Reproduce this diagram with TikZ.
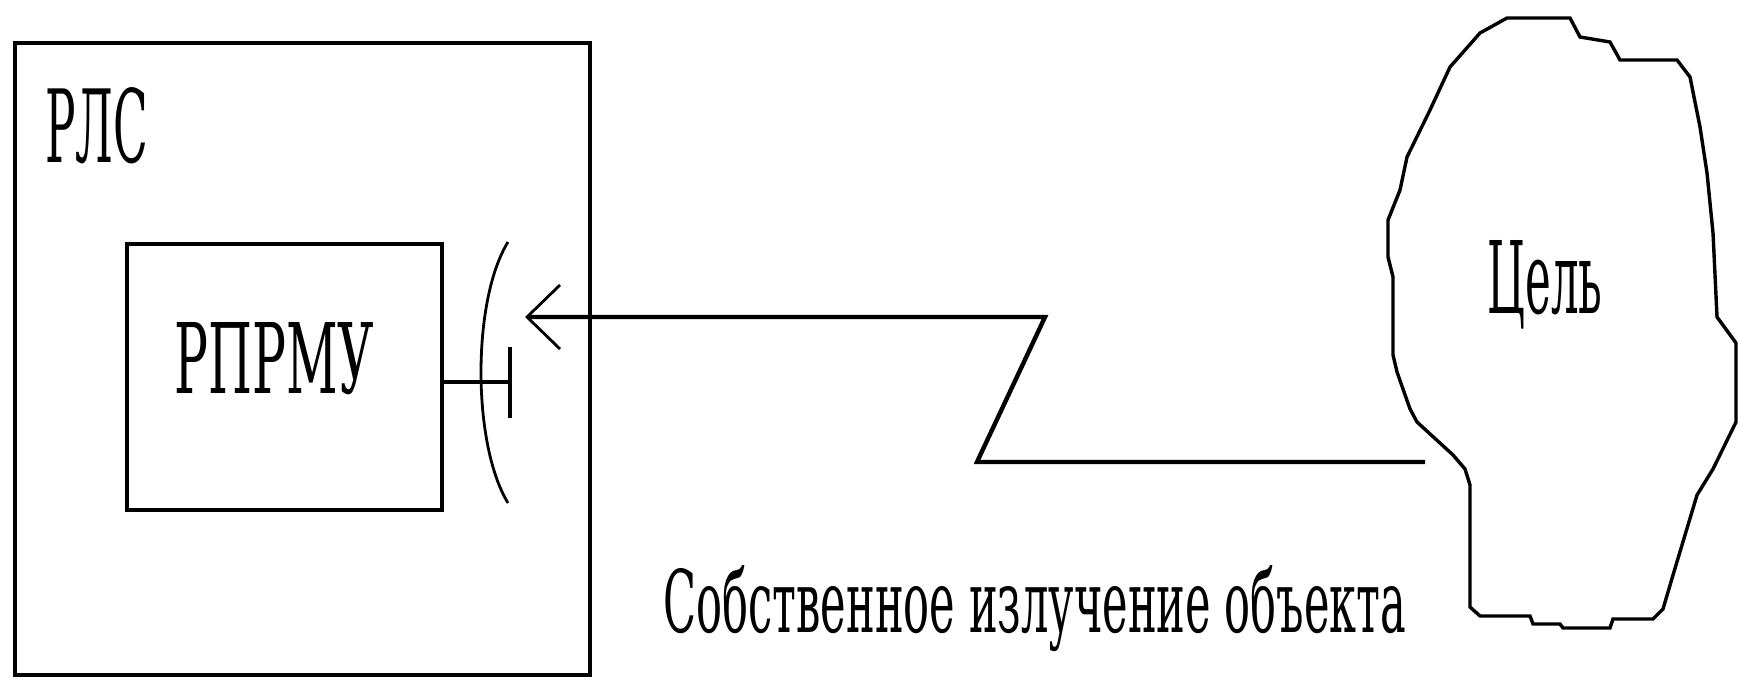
\documentclass[tikz,border=0pt]{standalone}
\usepackage{fontspec}
\setmainfont{DejaVu Serif}
\usetikzlibrary{arrows.meta}
\tikzset{blk/.style={draw,line width=2.2pt,inner sep=0pt},
  txt/.style={inner sep=0pt,anchor=base west,font=\rmfamily}}

\begin{document}
\begin{tikzpicture}[x=0.5pt,y=-0.5pt]
  \useasboundingbox (0,0) rectangle (1738,680);
  % radar and receiver
  \node[blk,minimum width=287.5pt,minimum height=316pt] (rls) at (302.5,359) {};
  \node[blk,minimum width=157.5pt,minimum height=133pt] (prmu) at (284.5,377) {};
  \node[txt] (rlsname) at (45,162) {\resizebox{51.5pt}{37.5pt}{РЛС}};
  \node[txt] (prmuname) at (174,393) {\resizebox{100pt}{35.5pt}{РПРМУ}};
  % antenna
  \coordinate (feed) at (510,382);
  \draw[line width=1.7pt] (feed -| prmu.east) -- (feed); \draw[line width=1.7pt] (feed) ++(0,-35) -- ++(0,71);
  \draw[line width=1.4pt] (508,242) .. controls (472,300) and (472,444) .. (508,503);
  % target
  \draw[line width=1.7pt] (1507,18) -- (1570,18) -- (1580,37) -- (1610,42) -- (1620,60) -- (1677,60) -- (1690,77)
    -- (1700,127) -- (1707,173) -- (1713,233) -- (1717,317) -- (1736,343) -- (1736,422) -- (1713,469) -- (1697,495)
    -- (1673,575) -- (1663,609) -- (1653,619) -- (1613,619) -- (1610,628) -- (1563,628) -- (1560,624) -- (1533,624)
    -- (1530,616) -- (1480,616) -- (1470,607) -- (1470,485) -- (1465,469) -- (1453,455) -- (1417,422) -- (1410,409)
    -- (1397,372) -- (1393,355) -- (1393,277) -- (1388,257) -- (1388,220) -- (1400,190) -- (1407,157) -- (1430,110)
    -- (1450,67) -- (1480,33) -- cycle;
  \node[txt] (cel) at (1487,313) {\resizebox{57.5pt}{36.5pt}{Цель}};
  % emission
  \coordinate (rx) at (525,317); \coordinate (tx) at (1425,462);
  \draw[line width=2.2pt,-{Straight Barb[length=16.5pt,width=32pt,line width=1.4pt]}] (tx) -- (977,462) -- (1045,317) -- (rx);
  \node[txt] (emis) at (663,632) {\resizebox{371.5pt}{33.5pt}{Собственное излучение объекта}};
\end{tikzpicture}
\end{document}
